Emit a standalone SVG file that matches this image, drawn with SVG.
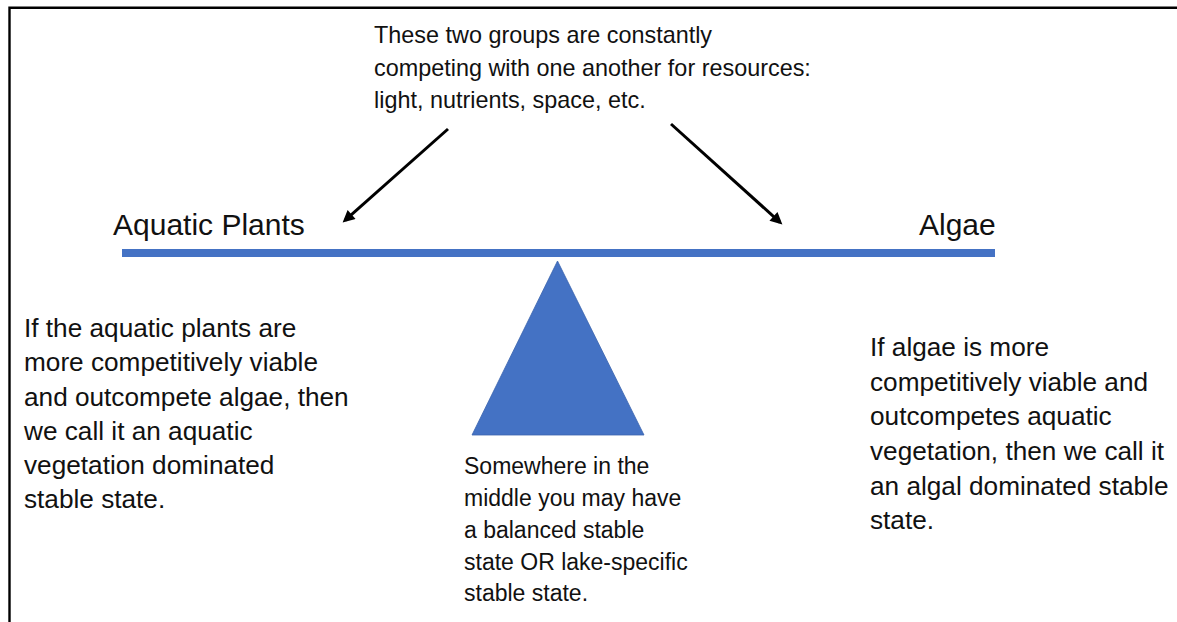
<svg xmlns="http://www.w3.org/2000/svg" width="1177" height="622" viewBox="0 0 1177 622">
<style>
text{font-family:"Liberation Sans",Arial,sans-serif;fill:#111}
.t{font-size:23.4px}
.m{font-size:23px}
.p{font-size:26.2px}
.l{font-size:30px}
.blue{fill:#4472C4}
.arr{stroke:#000;stroke-width:3;fill:none;marker-end:url(#ah)}
</style>
<defs>
<marker id="ah" viewBox="0 0 10 10" refX="7.33" refY="5" markerWidth="5" markerHeight="4" orient="auto" markerUnits="strokeWidth">
<path d="M0,0 L10,5 L0,10 z" fill="#000"/>
</marker>
</defs>
<rect width="1177" height="622" fill="#fff"/>
<g id="frame" stroke="#000" stroke-width="2.4" fill="none">
<path d="M9.5,622 V7.8 H1177"/>
</g>
<g id="note-top">
<text class="t" x="374" y="43">These two groups are constantly</text>
<text class="t" x="374" y="75.5">competing with one another for resources:</text>
<text class="t" x="374" y="108">light, nutrients, space, etc.</text>
</g>
<g id="label-plants"><text class="l" x="113" y="235">Aquatic Plants</text></g>
<g id="label-algae"><text class="l" x="919" y="235">Algae</text></g>
<g id="beam"><rect class="blue" x="122" y="249" width="873" height="8"/></g>
<g id="fulcrum"><polygon class="blue" points="557.5,261 472,435 644,435" stroke="#3A63AD" stroke-width="0.8"/></g>
<g id="text-left">
<text class="p" x="24" y="337">If the aquatic plants are</text>
<text class="p" x="24" y="371">more competitively viable</text>
<text class="p" x="24" y="405.5">and outcompete algae, then</text>
<text class="p" x="24" y="439.5">we call it an aquatic</text>
<text class="p" x="24" y="474">vegetation dominated</text>
<text class="p" x="24" y="508">stable state.</text>
</g>
<g id="text-right">
<text class="p" x="870" y="356">If algae is more</text>
<text class="p" x="870" y="390.5">competitively viable and</text>
<text class="p" x="870" y="425">outcompetes aquatic</text>
<text class="p" x="870" y="460">vegetation, then we call it</text>
<text class="p" x="870" y="494.5">an algal dominated stable</text>
<text class="p" x="870" y="529">state.</text>
</g>
<g id="text-middle">
<text class="m" x="464" y="474">Somewhere in the</text>
<text class="m" x="464" y="506">middle you may have</text>
<text class="m" x="464" y="537.5">a balanced stable</text>
<text class="m" x="464" y="569.5">state OR lake-specific</text>
<text class="m" x="464" y="601">stable state.</text>
</g>
<g id="connectors">
<line class="arr" x1="448" y1="129" x2="345" y2="220.3"/>
<line class="arr" x1="671" y1="124" x2="780" y2="222.3"/>
</g>
</svg>
